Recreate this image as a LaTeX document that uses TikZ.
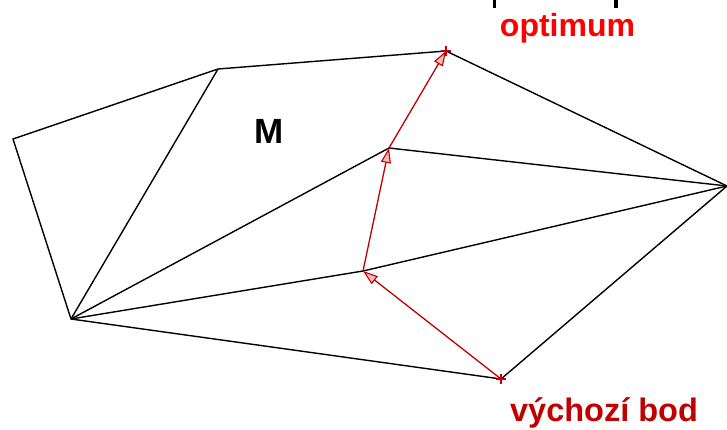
\documentclass[tikz,border=0pt]{standalone}
\usepackage{fontspec}
\setmainfont{Liberation Sans}
\usetikzlibrary{arrows.meta}
\definecolor{dred}{RGB}{192,0,0}
\definecolor{tipfill}{RGB}{245,185,185}
\tikzset{
  edge/.style={draw=black,line width=1.4pt},
  path/.style={draw=dred,line width=1.3pt,-{Triangle[length=15pt,width=10pt,fill=tipfill,line width=1.1pt]}},
  vtx/.style={inner sep=0pt,minimum size=0pt},
  plusmark/.style={draw=dred,line width=1.3pt},
  lbl/.style={font=\bfseries,inner sep=0pt}
}
\begin{document}
\begin{tikzpicture}[x=1pt,y=-1pt]
\useasboundingbox (0,0) rectangle (727,430);
\coordinate (A) at (13,139);
\coordinate (B) at (218,69);
\coordinate (C) at (446,51);
\coordinate (D) at (727,186);
\coordinate (E) at (501,379);
\coordinate (F) at (71,319);
\coordinate (G) at (389,148);
\coordinate (H) at (363,271);
\draw[edge,line join=miter] (A) -- (B) -- (C) -- (D) -- (E) -- (F) -- cycle;
\draw[edge] (B) -- (F);
\draw[edge] (F) -- (G) -- (D);
\draw[edge] (F) -- (H) -- (D);
\draw[path] (E) -- (H);
\draw[path] (H) -- (G);
\draw[path] (G) -- (C);
\draw[plusmark] ([xshift=-5pt]C) -- ([xshift=5pt]C) ([yshift=-5pt]C) -- ([yshift=5pt]C);
\draw[plusmark] ([xshift=-5pt]E) -- ([xshift=5pt]E) ([yshift=-5pt]E) -- ([yshift=5pt]E);
\node[lbl,font=\fontsize{35}{40}\bfseries\selectfont] (M) at (269.5,131.5) {M};
\node[lbl,text=red,font=\fontsize{32}{36}\bfseries\selectfont] (opt) at (567.5,28) {optimum};
\node[lbl,text=dred,font=\fontsize{32.5}{38}\bfseries\selectfont] (start) at (604,413) {výchozí bod};
\coordinate (t1a) at (494.5,0);
\coordinate (t1b) at (494.5,8);
\coordinate (t2a) at (616,0);
\coordinate (t2b) at (616,8);
\draw[line width=3.5pt] (t1a) -- (t1b);
\draw[line width=3.5pt] (t2a) -- (t2b);
\end{tikzpicture}
\end{document}
